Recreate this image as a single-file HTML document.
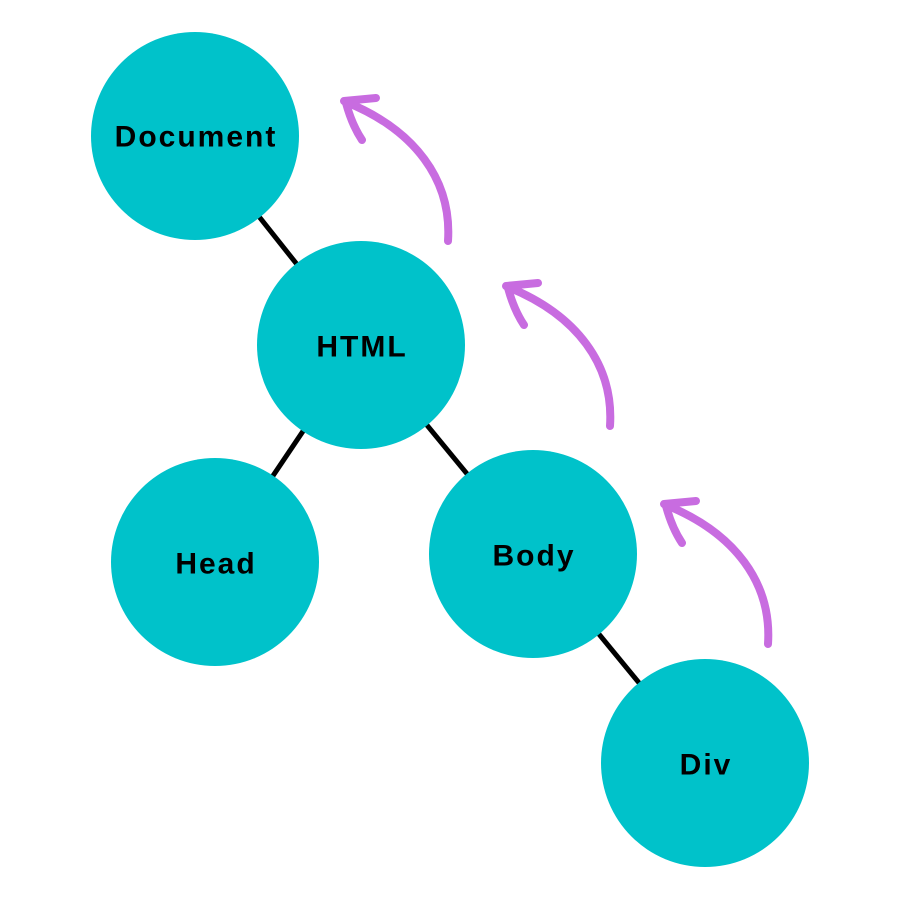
<!DOCTYPE html>
<html><head><style>
body{margin:0;background:#fff}
svg{display:block}
text{font-family:"Liberation Sans",sans-serif;font-weight:bold;font-size:30px;letter-spacing:2px;fill:#000;text-anchor:middle;dominant-baseline:central}
</style></head><body>
<svg width="900" height="900" viewBox="0 0 900 900">
<defs>
<g id="arr" fill="none" stroke="#c86ce0" stroke-width="8" stroke-linecap="round">
<path d="M448,241 C452,180 415,130 346,102"/>
<path d="M344,101 L376,98"/>
<path d="M346,103 Q352,125 362,140"/>
</g>
</defs>
<g stroke="#000" stroke-width="5">
<line x1="195" y1="136" x2="361" y2="345"/>
<line x1="361" y1="345" x2="215" y2="562"/>
<line x1="361" y1="345" x2="533" y2="554"/>
<line x1="533" y1="554" x2="705" y2="763"/>
</g>
<g fill="#00c2ca">
<circle cx="195" cy="136" r="104"/>
<circle cx="361" cy="345" r="104"/>
<circle cx="215" cy="562" r="104"/>
<circle cx="533" cy="554" r="104"/>
<circle cx="705" cy="763" r="104"/>
</g>
<text x="196" y="137">Document</text>
<text x="362" y="347">HTML</text>
<text x="216" y="564">Head</text>
<text x="534" y="556">Body</text>
<text x="706" y="765">Div</text>
<use href="#arr"/>
<use href="#arr" transform="translate(162,185)"/>
<use href="#arr" transform="translate(320,403)"/>
</svg>
</body></html>
